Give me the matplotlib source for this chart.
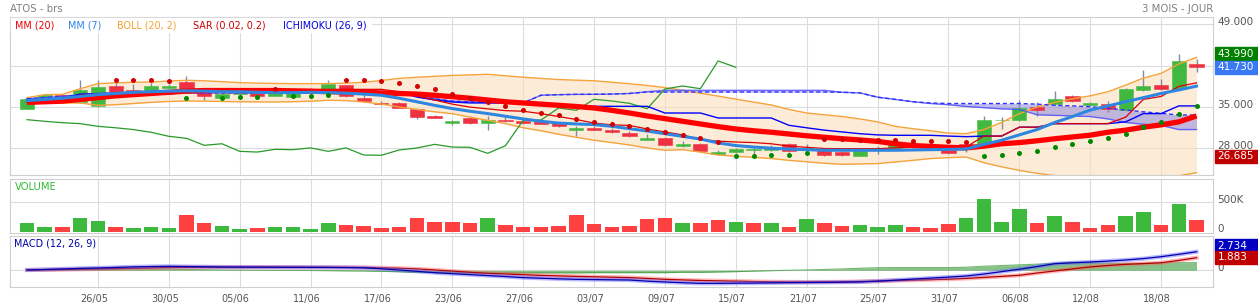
import numpy as np
import matplotlib
matplotlib.use("Agg")
import matplotlib.pyplot as plt
from matplotlib.patches import Rectangle

W, H = 1258, 308

# daily candles 20/05 -> 20/08
OPEN = [34.73, 36.32, 37.0, 35.86, 35.13, 38.57, 37.94, 37.77, 38.28, 39.19,
        37.94, 36.6, 37.2, 37.38, 36.93, 36.7, 37.6, 37.84, 38.69, 36.54,
        35.7, 35.69, 34.73, 33.55, 32.36, 33.2, 32.36, 32.87, 32.7, 32.6,
        32.3, 31.2, 31.5, 31.08, 30.6, 29.5, 29.78, 28.37, 28.8, 27.07,
        27.36, 27.75, 27.8, 28.76, 27.9, 27.75, 27.4, 26.78, 27.86, 28.14,
        28.5, 28.4, 27.75, 28.76, 28.7, 32.77, 32.87, 35.0, 35.47, 36.83,
        35.36, 35.47, 34.46, 37.84, 38.69, 38.11, 42.24]
CLOSE = [36.42, 37.0, 36.15, 37.84, 38.4, 37.38, 37.5, 38.57, 38.57, 38.0,
         36.93, 37.27, 37.3, 36.93, 37.33, 37.33, 38.0, 38.96, 36.83, 35.98,
         35.5, 34.9, 33.33, 33.2, 32.6, 32.3, 32.87, 32.6, 32.36, 32.2,
         31.75, 31.5, 31.2, 30.74, 30.06, 29.72, 28.54, 28.8, 27.52, 27.4,
         27.86, 27.8, 28.1, 27.52, 28.1, 26.9, 26.85, 27.75, 28.08, 28.7,
         28.25, 28.2, 27.18, 28.47, 32.77, 32.8, 34.85, 34.45, 36.32, 36.03,
         35.64, 34.73, 38.06, 38.57, 38.11, 42.8, 41.73]
HIGH = [36.5, 37.2, 37.1, 39.53, 39.63, 39.24, 38.9, 39.13, 38.9, 40.2,
        38.0, 38.2, 37.6, 37.5, 38.2, 37.9, 38.3, 39.63, 38.8, 37.3,
        36.0, 35.9, 34.8, 33.7, 32.8, 33.5, 33.5, 33.6, 33.2, 32.8,
        32.4, 31.8, 31.9, 31.5, 30.9, 30.4, 29.9, 29.3, 28.9, 27.8,
        28.0, 28.2, 28.6, 28.9, 28.8, 27.9, 27.5, 27.9, 28.5, 28.9,
        28.7, 28.6, 27.9, 28.9, 33.5, 33.3, 36.15, 35.8, 37.7, 37.1,
        35.9, 36.0, 38.2, 41.2, 39.8, 43.99, 43.2]
LOW = [34.6, 36.2, 36.0, 35.7, 35.0, 37.3, 37.4, 37.7, 38.2, 37.9,
       36.15, 36.5, 36.9, 36.8, 36.8, 36.6, 37.5, 37.7, 36.7, 35.9,
       35.3, 34.8, 33.0, 33.1, 31.9, 32.2, 31.08, 32.5, 32.2, 32.1,
       31.6, 30.06, 31.1, 30.6, 29.95, 29.4, 28.4, 28.2, 27.4, 26.95,
       27.2, 26.9, 27.5, 27.4, 27.3, 26.8, 26.75, 26.685, 27.1, 28.0,
       28.1, 28.1, 27.0, 27.4, 28.6, 31.3, 32.7, 33.5, 35.3, 35.9,
       35.2, 34.2, 34.3, 37.7, 37.9, 38.0, 41.0]

MM20 = [35.8, 35.9, 36.0, 36.3, 36.6, 36.9, 37.1, 37.3, 37.5, 37.7,
        37.8, 37.8, 37.8, 37.8, 37.8, 37.75, 37.7, 37.6, 37.55, 37.5,
        37.4, 37.3, 37.2, 37.0, 36.75, 36.5, 36.2, 35.9, 35.7, 35.5,
        35.3, 35.1, 34.85, 34.45, 34.0, 33.5, 33.05, 32.6, 32.15, 31.7,
        31.3, 31.0, 30.75, 30.45, 30.15, 29.9, 29.65, 29.45, 29.2, 28.8,
        28.5, 28.35, 28.2, 28.1, 28.4, 28.8, 29.0, 29.3, 29.65, 29.95,
        30.25, 30.75, 31.1, 31.6, 32.0, 32.5, 33.5]
MM7 = [36.1, 36.3, 36.5, 36.8, 37.1, 37.3, 37.5, 37.6, 37.7, 37.75,
       37.7, 37.6, 37.6, 37.5, 37.45, 37.45, 37.5, 37.45, 37.35, 37.2,
       37.0, 36.5, 35.9, 35.3, 34.75, 34.3, 33.9, 33.45, 33.0, 32.6,
       32.3, 32.15, 32.05, 31.75, 31.35, 30.95, 30.5, 30.05, 29.6, 28.95,
       28.5, 28.25, 28.05, 27.9, 27.8, 27.7, 27.7, 27.7, 27.7, 27.7,
       27.75, 27.8, 27.85, 27.92, 28.7, 29.4, 30.3, 31.2, 32.4, 33.4,
       34.5, 35.2, 35.9, 36.6, 37.3, 37.9, 38.55]
BOLL_UP = [36.6, 37.1, 37.16, 38.1, 38.96, 39.1, 39.2, 39.24, 39.4, 39.53,
           39.45, 39.3, 39.13, 39.05, 39.0, 38.96, 38.96, 38.98, 39.05, 39.19,
           39.5, 39.85, 40.05, 40.2, 40.35, 40.45, 40.54, 40.3, 40.05, 39.85,
           39.65, 39.55, 39.45, 39.2, 38.95, 38.65, 38.3, 37.85, 37.35, 36.85,
           36.35, 35.85, 35.35, 34.6, 34.0, 33.7, 33.4, 33.0, 32.5, 31.75,
           31.35, 31.0, 30.6, 30.5, 31.2, 32.4, 33.9, 35.0, 35.8, 36.4,
           36.9, 37.6, 38.7, 39.9, 40.7, 42.3, 43.4]
BOLL_LOW = [36.2, 35.8, 35.7, 35.69, 35.3, 35.4, 35.6, 35.8, 35.95, 36.03,
            36.0, 35.95, 35.9, 35.88, 35.86, 35.9, 36.0, 36.15, 36.1, 35.86,
            35.5, 35.02, 34.6, 34.2, 33.89, 33.3, 32.77, 32.2, 31.5, 31.0,
            30.4, 29.9, 29.4, 29.0, 28.6, 28.1, 27.69, 27.8, 27.4, 26.9,
            26.68, 26.5, 26.3, 26.0, 25.75, 25.5, 25.33, 25.38, 25.45, 25.72,
            26.0, 26.3, 26.45, 26.56, 25.6, 24.9, 24.3, 23.8, 23.4, 23.2,
            23.1, 23.0, 22.9, 22.9, 23.0, 23.4, 23.9]

# SAR: value, side (r = above price, g = below price), nan = not shown
SAR = [np.nan, np.nan, np.nan, np.nan, np.nan, 39.63, 39.63, 39.63, 39.47, 36.6,
       np.nan, 36.6, 36.7, 36.76, 38.11, 36.88, 36.88, 37.05, 39.63, 39.63,
       39.47, 39.13, 38.62, 38.11, 37.2, 36.6, 35.92, 35.19, 34.56, 34.0,
       33.71, 33.04, 32.48, 32.2, 31.8, 31.35, 30.84, 30.33, 29.83, 29.15,
       26.78, 26.78, 26.95, 26.95, 27.29, 29.6, 29.6, 29.5, 29.5, 29.5,
       29.27, 29.27, 29.27, 29.1, 26.78, 26.95, 27.29, 27.58, 28.3, 28.8,
       29.27, 29.83, 30.5, 31.69, 32.48, 33.89, 35.24]
SAR_SIDE = "rrrrrrrrrg" "rgggrgggrr" "rrrrrrrrrr" "rrrrrrrrrr" "gggggrrrrr" "rrrrgggggg" "ggggggg"

# Ichimoku (26, 9)
TENKAN = [35.8, 35.8, 35.8, 37.0, 37.2, 37.2, 37.2, 37.2, 37.5, 37.95,
          37.95, 37.95, 37.95, 37.95, 37.95, 37.95, 37.95, 38.0, 38.0, 38.0,
          38.0, 37.6, 36.9, 36.2, 35.5, 35.0, 34.7, 34.4, 34.3, 33.9,
          33.4, 32.9, 32.3, 32.0, 31.9, 31.3, 30.8, 30.3, 29.5, 29.25,
          29.1, 29.0, 28.8, 28.4, 28.2, 28.0, 27.97, 27.97, 27.97, 28.1,
          28.2, 28.2, 28.2, 28.25, 30.1, 30.1, 31.6, 31.6, 32.2, 32.2,
          32.2, 32.2, 33.3, 36.3, 36.8, 38.5, 39.1]
KIJUN = [36.3, 36.3, 36.3, 37.2, 37.2, 37.2, 37.2, 37.2, 37.2, 37.5,
         37.5, 37.5, 37.5, 37.5, 37.5, 37.5, 37.5, 37.5, 37.5, 37.5,
         37.5, 37.5, 36.7, 36.2, 35.86, 35.7, 35.7, 35.7, 35.7, 35.7,
         35.13, 35.13, 35.13, 35.13, 35.13, 35.13, 34.0, 34.0, 34.0, 33.16,
         33.16, 33.16, 33.16, 31.92, 31.5, 31.1, 30.8, 30.5, 30.3, 30.23,
         30.23, 30.23, 30.1, 30.0, 30.1, 30.1, 31.6, 31.6, 32.2, 32.2,
         32.2, 32.2, 32.5, 33.9, 33.9, 35.2, 35.2]
SENKOU_A = [36.4, 36.6, 36.8, 37.1, 37.3, 37.4, 37.4, 37.4, 37.4, 37.4,
            37.4, 37.4, 37.4, 37.4, 37.4, 37.4, 37.4, 37.4, 37.4, 37.4,
            37.4, 37.3, 36.9, 36.4, 36.0, 35.9, 35.8, 35.75, 35.7, 37.0,
            37.1, 37.15, 37.16, 37.2, 37.3, 37.6, 37.84, 37.84, 37.84, 37.84,
            37.84, 37.84, 37.84, 37.84, 37.84, 37.84, 37.5, 37.4, 36.7, 36.3,
            35.9, 35.6, 35.4, 35.1, 34.9, 34.7, 34.6, 33.7, 33.6, 33.5,
            33.4, 33.0, 32.4, 32.1, 31.9, 31.2, 31.2]
SENKOU_B = [36.4, 36.6, 36.8, 37.1, 37.3, 37.4, 37.4, 37.4, 37.4, 37.4,
            37.4, 37.4, 37.4, 37.4, 37.4, 37.4, 37.4, 37.4, 37.4, 37.4,
            37.4, 37.3, 36.9, 36.4, 36.0, 35.9, 35.8, 35.75, 35.7, 37.0,
            37.1, 37.15, 37.16, 37.2, 37.3, 37.55, 37.55, 37.55, 37.55, 37.55,
            37.55, 37.55, 37.55, 37.55, 37.55, 37.55, 37.5, 37.4, 36.65, 36.3,
            35.9, 35.7, 35.6, 35.6, 35.6, 35.6, 35.6, 35.5, 35.3, 35.2,
            35.07, 34.8, 34.5, 34.2, 33.95, 33.66, 33.66]

VOLUME_K = [146, 84, 79, 225, 175, 79, 67, 79, 62, 276,
            141, 96, 45, 62, 84, 84, 50, 152, 118, 96,
            62, 79, 231, 168, 163, 146, 231, 107, 79, 79,
            96, 281, 130, 79, 96, 214, 231, 141, 141, 191,
            163, 146, 141, 84, 208, 146, 96, 118, 73, 113,
            79, 67, 130, 231, 550, 163, 377, 146, 264, 158,
            57, 118, 259, 332, 113, 461, 191]

MACD = [0.04, 0.12, 0.2, 0.28, 0.34, 0.42, 0.5, 0.55, 0.58, 0.55,
        0.52, 0.48, 0.47, 0.46, 0.45, 0.44, 0.43, 0.42, 0.4, 0.36,
        0.22, 0.04, -0.15, -0.35, -0.5, -0.64, -0.78, -0.92, -1.08, -1.17,
        -1.26, -1.33, -1.37, -1.4, -1.43, -1.6, -1.72, -1.83, -1.92, -1.92,
        -1.9, -1.88, -1.85, -1.82, -1.8, -1.78, -1.75, -1.72, -1.6, -1.45,
        -1.3, -1.15, -1.0, -0.84, -0.55, -0.2, 0.15, 0.55, 0.97, 1.1,
        1.22, 1.35, 1.51, 1.72, 2.0, 2.35, 2.73]
SIGNAL = [0.04, 0.06, 0.1, 0.15, 0.2, 0.25, 0.3, 0.35, 0.4, 0.43,
          0.45, 0.46, 0.46, 0.46, 0.46, 0.45, 0.45, 0.44, 0.43, 0.41,
          0.36, 0.3, 0.2, 0.05, -0.12, -0.3, -0.45, -0.55, -0.65, -0.75,
          -0.82, -0.9, -0.96, -1.02, -1.08, -1.2, -1.33, -1.42, -1.5, -1.55,
          -1.6, -1.65, -1.69, -1.72, -1.73, -1.72, -1.7, -1.65, -1.6, -1.52,
          -1.45, -1.38, -1.3, -1.2, -1.05, -0.9, -0.74, -0.4, -0.1, 0.2,
          0.5, 0.7, 0.88, 0.98, 1.1, 1.45, 1.85]
HIST = [0.0, 0.05, 0.08, 0.1, 0.12, 0.14, 0.15, 0.15, 0.14, 0.12,
        0.08, 0.04, 0.02, 0.0, -0.01, -0.02, -0.03, -0.05, -0.08, -0.1,
        -0.15, -0.22, -0.3, -0.35, -0.38, -0.4, -0.4, -0.4, -0.4, -0.38,
        -0.38, -0.38, -0.35, -0.35, -0.35, -0.35, -0.35, -0.3, -0.3, -0.25,
        -0.2, -0.12, -0.05, 0.0, 0.05, 0.12, 0.2, 0.3, 0.38, 0.4,
        0.4, 0.4, 0.4, 0.45, 0.6, 0.7, 0.8, 0.9, 1.05, 1.2,
        1.15, 1.05, 1.0, 1.05, 1.1, 1.12, 1.12]

TICK_POS = [4, 8, 12, 16, 20, 24, 28, 32, 36, 40, 44, 48, 52, 56, 60, 64]
TICK_LABELS = ["26/05", "30/05", "05/06", "11/06", "17/06", "23/06", "27/06", "03/07",
               "09/07", "15/07", "21/07", "25/07", "31/07", "06/08", "12/08", "18/08"]

GRID = "#dcdcdc"
SPINE = "#cfcfcf"
LABEL = "#555555"


def frac(x0, y0, x1, y1):
    return [x0 / W, 1 - y1 / H, (x1 - x0) / W, (y1 - y0) / H]


def style(ax):
    for s in ax.spines.values():
        s.set_color(SPINE)
        s.set_linewidth(0.8)
    ax.tick_params(length=0, labelleft=False, labelbottom=False)
    ax.set_xticks(TICK_POS)
    ax.grid(True, color=GRID, lw=0.8)
    ax.set_axisbelow(True)
    ax.set_xlim(-0.96, 66.93)


def right_label(ax, v, txt):
    ax.annotate(txt, xy=(1, v), xycoords=("axes fraction", "data"),
                xytext=(3.2, 1.6), textcoords="offset points", ha="left",
                va="center", fontsize=7.5, color=LABEL, annotation_clip=False)


def badge(ax, v, txt, color, dy=0, h=13):
    # dy in pixels, positive = upward
    y = ax.transData.transform((0, v))[1] + dy
    fig.add_artist(Rectangle((1215 / W, (y - h / 2) / H), 43 / W, h / H,
                             transform=fig.transFigure, color=color, zorder=5))
    fig.text(1217.5 / W, y / H, txt, color="white", fontsize=7.5,
             va="center", ha="left", zorder=6)


idx = np.arange(len(CLOSE))
o, c, hi, lo = map(np.array, (OPEN, CLOSE, HIGH, LOW))

fig = plt.figure(figsize=(W / 100, H / 100), dpi=100)
ax = fig.add_axes(frac(10, 17, 1213, 175))
axv = fig.add_axes(frac(10, 179, 1213, 233))
axm = fig.add_axes(frac(10, 235.5, 1213, 287))
for a in (ax, axv, axm):
    style(a)

# ---- price panel
ax.set_ylim(23.52, 50.23)
ax.set_yticks([28, 35, 42, 49])
ax.fill_between(idx, BOLL_LOW, BOLL_UP, color="#fbe0bd", alpha=0.6, lw=0, zorder=1)
ax.fill_between(idx, SENKOU_A, SENKOU_B, color="#8f88e0", alpha=0.55, lw=0, zorder=1.5)

up = c >= o
body_col = np.where(up, "#41b941", "#ee3142")
ax.vlines(idx, lo, hi, color="#7d8fa8", lw=1, zorder=2)
ax.bar(idx, np.maximum(np.abs(c - o), 0.12), bottom=np.minimum(o, c), width=0.8,
       color=body_col, edgecolor=body_col, lw=0.4, zorder=2.5)

ax.plot(idx, BOLL_UP, color="#f5a33a", lw=1, zorder=3)
ax.plot(idx, BOLL_LOW, color="#f5a33a", lw=1, zorder=3)
ax.plot(idx, SENKOU_A, color="#4b4bff", lw=1, alpha=0.8, zorder=3)
ax.plot(idx, SENKOU_B, color="#3030ff", lw=1, ls=(0, (3, 2)), zorder=3)
ax.plot(idx[:len(CLOSE) - 26], CLOSE[26:], color="#2a9a2a", lw=0.9, zorder=3)
ax.plot(idx, KIJUN, color="#0000ff", lw=1, zorder=3.2)
ax.plot(idx, TENKAN, color="#dd0000", lw=0.9, zorder=3.3)
ax.plot(idx, MM20, color="#ff0000", lw=3.8, solid_capstyle="butt", zorder=4)
ax.plot(idx, MM7, color="#2f86e0", lw=2.2, zorder=4.1)

sar = np.array(SAR)
side = np.array(list(SAR_SIDE))
ax.plot(idx[side == "r"], sar[side == "r"], "o", color="#d40000", ms=3.6, mew=0, zorder=5)
ax.plot(idx[side == "g"], sar[side == "g"], "o", color="#008a00", ms=3.6, mew=0, zorder=5)

# 42.000 sits under the value badges in the reference, so only these show
for v in (49, 35, 28):
    right_label(ax, v, f"{v:.3f}")

# ---- volume panel
vol = np.array(VOLUME_K) * 1000
prev = np.concatenate([[c[0]], c[:-1]])
vcol = np.where(c >= prev, "#3dba3d", "#ff4040")
axv.set_ylim(-21900, 887000)
axv.set_yticks([500000])
axv.bar(idx, vol, width=0.82, color=vcol, lw=0, zorder=2)
right_label(axv, 500000, "500K")
right_label(axv, 0, "0")

# ---- MACD panel
axm.set_ylim(-2.46, 5.12)
axm.set_yticks([0])
axm.fill_between(idx, 0, HIST, color="#3a9a3a", alpha=0.6, lw=0, zorder=2)
axm.plot(idx, HIST, color="#3a9a3a", lw=0.8, alpha=0.7, zorder=2)
axm.plot(idx, SIGNAL, color="#ff6060", lw=3, alpha=0.45, zorder=3)
axm.plot(idx, SIGNAL, color="#b00000", lw=0.9, zorder=3.1)
axm.plot(idx, MACD, color="#6060ff", lw=3, alpha=0.45, zorder=3.2)
axm.plot(idx, MACD, color="#0000b0", lw=0.9, zorder=3.3)
right_label(axm, 0, "0")
for p, lab in zip(TICK_POS, TICK_LABELS):
    axm.annotate(lab, xy=(p, 0), xycoords=("data", "axes fraction"),
                 xytext=(-2.8, -8.4), textcoords="offset points", ha="center",
                 va="center", fontsize=7, color=LABEL, annotation_clip=False)

# ---- headers and legend
fig.add_artist(Rectangle((11 / W, 1 - 32 / H), 360 / W, 14 / H,
                         transform=fig.transFigure, color="white", zorder=1))
fig.text(10 / W, 1 - 9 / H, "ATOS - brs", color="#808080", fontsize=7.3, va="center")
fig.text(1213 / W, 1 - 9 / H, "3 MOIS - JOUR", color="#808080", fontsize=7.3,
         va="center", ha="right")
legend = [("MM (20)", "#ee0000", 15), ("MM (7)", "#2b86e6", 68),
          ("BOLL (20, 2)", "#f5a334", 117), ("SAR (0.02, 0.2)", "#cc0000", 193),
          ("ICHIMOKU (26, 9)", "#0000dd", 283)]
for txt, col, x in legend:
    fig.text(x / W, 1 - 25 / H, txt, color=col, fontsize=6.9, va="center", zorder=3)
fig.text(15 / W, 1 - 187 / H, "VOLUME", color="#33bb33", fontsize=7.2, va="center", zorder=3)
fig.text(14 / W, 1 - 244 / H, "MACD (12, 26, 9)", color="#0000aa", fontsize=6.9,
         va="center", zorder=3)

# ---- value badges
badge(ax, 43.99, "43.990", "#008000")
badge(ax, 41.73, "41.730", "#3a78f5")
badge(ax, 26.685, "26.685", "#c00000")
badge(axm, 2.734, "2.734", "#0000c0", dy=6)
badge(axm, 1.883, "1.883", "#c00000", dy=0)

fig.savefig("out.png", dpi=100)
